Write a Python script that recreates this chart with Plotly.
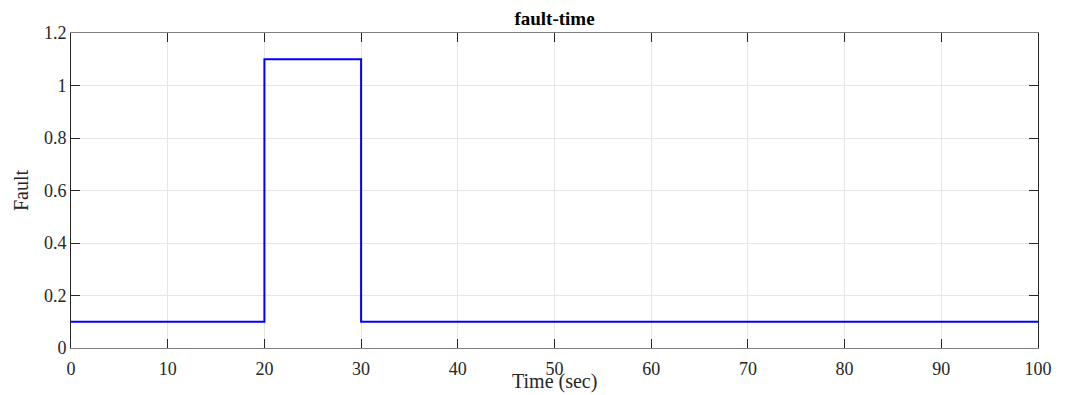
import plotly.graph_objects as go

time_s = [0, 20, 30, 100]
fault = [0.1, 1.1, 0.1, 0.1]
x_ticks = [0, 10, 20, 30, 40, 50, 60, 70, 80, 90, 100]
y_ticks = [0, 0.2, 0.4, 0.6, 0.8, 1, 1.2]
y_tick_text = ["0", "0.2", "0.4", "0.6", "0.8", "1", "1.2"]

FONT = "Liberation Serif, Times New Roman, serif"

# page has an 8px body margin; target plot area in page px: x 71..1038, y 33..348
OFF = 8
W, H = 1068 - OFF, 395 - OFF
L, T = 71 - OFF, 33 - OFF
R = W - (1038 - OFF)
B = H - (348 - OFF)
PW, PH = W - L - R, H - T - B

fig = go.Figure()
fig.add_trace(go.Scatter(x=time_s, y=fault, mode="lines", line_shape="hv",
                         line=dict(color="#0000ff", width=2), showlegend=False))

fig.update_layout(
    width=W, height=H,
    margin=dict(l=L, r=R, t=T, b=B, autoexpand=False),
    plot_bgcolor="white", paper_bgcolor="white",
    font=dict(family=FONT, size=18, color="#262626"),
    title=dict(text="fault-time", x=0.5, xref="paper", xanchor="center",
               y=1 - (18 - OFF) / H, yref="container", yanchor="middle",
               font=dict(family=FONT, size=19, color="black", weight="bold")),
    xaxis=dict(range=[0, 100], tickvals=x_ticks, ticks="inside", ticklen=9,
               tickcolor="#262626", showline=True, linecolor="#808080", linewidth=1,
               mirror="ticks", showgrid=True, gridcolor="#e6e6e6", gridwidth=1,
               zeroline=False, ticklabelstandoff=4,
               tickfont=dict(family=FONT, size=18, color="#262626")),
    yaxis=dict(range=[0, 1.2], tickvals=y_ticks, ticktext=y_tick_text, ticks="inside",
               ticklen=9, tickcolor="#262626", showline=True, linecolor="#262626",
               linewidth=1, mirror="ticks", showgrid=True, gridcolor="#e6e6e6",
               gridwidth=1, zeroline=False, tickfont=dict(family=FONT, size=18, color="#262626")),
    annotations=[
        dict(text="Time (sec)", xref="paper", x=0.5, xanchor="center",
             yref="paper", y=-(381 - 348) / PH, yanchor="middle",
             showarrow=False, font=dict(family=FONT, size=20, color="#262626")),
        dict(text="Fault", textangle=-90, xref="paper", x=-(71 - 21) / PW, xanchor="center",
             yref="paper", y=(348 - 190) / PH, yanchor="middle",
             showarrow=False, font=dict(family=FONT, size=20, color="#262626")),
    ],
)

fig.write_html("out.html")
